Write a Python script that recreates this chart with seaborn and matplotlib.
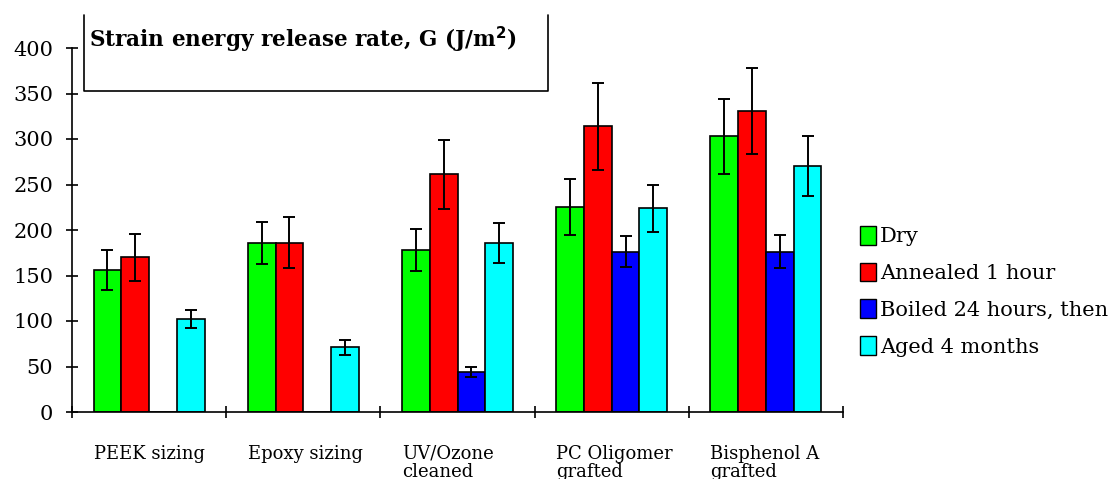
import numpy as np
import pandas as pd
import matplotlib
matplotlib.use('Agg')
import matplotlib.pyplot as plt
import seaborn as sns
from matplotlib.lines import Line2D
from matplotlib.patches import Patch
from matplotlib.transforms import blended_transform_factory

categories = ['PEEK sizing', 'Epoxy sizing', 'UV/Ozone\ncleaned', 'PC Oligomer\ngrafted', 'Bisphenol A\ngrafted']
conditions = ['Dry', 'Annealed 1 hour', 'Boiled 24 hours, then', 'Aged 4 months']
colors = ['#00ff00', '#ff0000', '#0000ff', '#00ffff']

dry = [156, 186, 178, 225, 303]
annealed = [170, 186, 261, 314, 331]
boiled = [0, 0, 44, 176, 176]
aged = [102, 71, 186, 224, 270]

dry_err = [22, 23, 23, 31, 41]
annealed_err = [26, 28, 38, 48, 47]
boiled_err = [0, 0, 5, 17, 18]
aged_err = [10, 8, 22, 26, 33]

values = [dry, annealed, boiled, aged]
errors = [dry_err, annealed_err, boiled_err, aged_err]

rows = []
for cond, vals in zip(conditions, values):
    for cat, v in zip(categories, vals):
        rows.append({'category': cat, 'condition': cond, 'G': v})
df = pd.DataFrame(rows)

sns.set_style('ticks')
plt.rcParams['font.family'] = ['DejaVu Serif']
plt.rcParams['text.color'] = 'black'
plt.rcParams['xtick.color'] = 'black'
plt.rcParams['ytick.color'] = 'black'

fig = plt.figure(figsize=(11.17, 4.79), dpi=100)
ax = fig.add_axes([72 / 1117, 1 - 412 / 479, (843 - 72) / 1117, (412 - 48) / 479])

sns.barplot(data=df, x='category', y='G', hue='condition', order=categories,
            hue_order=conditions, palette=colors, saturation=1, width=0.72,
            errorbar=None, edgecolor='black', linewidth=1.2, legend=False, ax=ax)

for container, errs in zip(ax.containers, errors):
    xs, ys, es = [], [], []
    for p, e in zip(container, errs):
        if e > 0:
            xs.append(p.get_x() + p.get_width() / 2)
            ys.append(p.get_height())
            es.append(e)
    ax.errorbar(xs, ys, yerr=es, fmt='none', ecolor='black', elinewidth=1.4,
                capsize=4, capthick=1.4, zorder=5)

ax.set_xlim(-0.5, len(categories) - 0.5)
ax.set_ylim(0, 400)
ax.set_yticks(np.arange(0, 401, 50))
ax.set_xticks(np.arange(-0.5, len(categories), 1))
ax.set_xticklabels([])
ax.set_xlabel('')
ax.set_ylabel('')
for s in ['top', 'right']:
    ax.spines[s].set_visible(False)
for s in ['left', 'bottom']:
    ax.spines[s].set_linewidth(1.2)
    ax.spines[s].set_color('black')
ax.tick_params(axis='y', direction='inout', length=9, width=1.2, pad=9,
               labelsize=15, colors='black')
ax.tick_params(axis='x', direction='inout', length=9, width=1.2, colors='black')

# category labels, left aligned under each bar group
trans = blended_transform_factory(ax.transData, ax.transAxes)
for i, cat in enumerate(categories):
    ax.text(i - 0.36, -0.09, cat, transform=trans, ha='left', va='top',
            fontsize=13, linespacing=1.0)

# title box
box = [(84, 15), (84, 91), (548, 91), (548, 15)]
fx = [x / 1117 for x, y in box]
fy = [1 - y / 479 for x, y in box]
fig.add_artist(Line2D(fx, fy, color='black', lw=1.2, transform=fig.transFigure))
fig.text(89 / 1117, 1 - 40 / 479, 'Strain energy release rate, G (J/m$^\\mathbf{2}$)',
         fontsize=15.5, fontweight='bold', va='center', ha='left')

handles = [Patch(facecolor=c, edgecolor='black', linewidth=1) for c in colors]
fig.legend(handles, conditions, loc='upper left',
           bbox_to_anchor=(860 / 1117, 1 - 226 / 479), frameon=False,
           fontsize=15, handlelength=0.75, handleheight=1.0, handletextpad=0.2,
           labelspacing=0.78, borderpad=0, borderaxespad=0)

fig.savefig('out.png', dpi=100)
